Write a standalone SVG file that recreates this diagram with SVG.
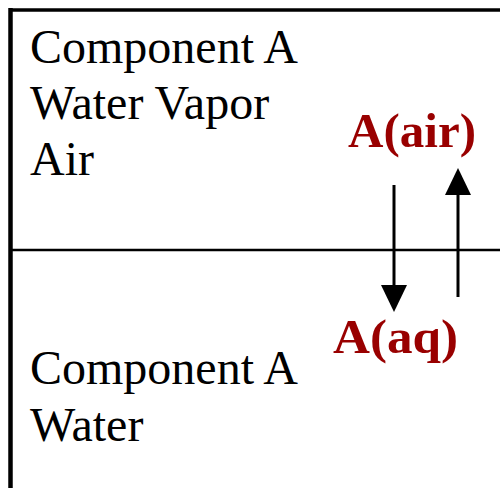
<svg xmlns="http://www.w3.org/2000/svg" width="500" height="488" viewBox="0 0 500 488">
<defs>
<style>
.lbl{font-family:"Liberation Serif","Times New Roman",serif;font-size:48px;fill:#000}
.red{font-family:"Liberation Serif","Times New Roman",serif;font-size:49px;font-weight:bold;fill:#990000}
.ln{stroke:#000;fill:none}
</style>
</defs>
<rect width="500" height="488" fill="#fff"/>
<g id="box">
<line class="ln" x1="10.5" y1="10" x2="500" y2="10" stroke-width="3.5"/>
<line class="ln" x1="10.5" y1="8" x2="10.5" y2="488" stroke-width="4.5"/>
<line class="ln" x1="10" y1="250" x2="500" y2="250" stroke-width="2.5"/>
</g>
<g id="air-phase">
<text class="lbl" x="30" y="63">Component A</text>
<text class="lbl" x="30" y="119">Water Vapor</text>
<text class="lbl" x="30" y="175">Air</text>
</g>
<g id="water-phase">
<text class="lbl" x="30" y="384">Component A</text>
<text class="lbl" x="30" y="441">Water</text>
</g>
<g id="A-air">
<text class="red" x="348" y="147" textLength="128" lengthAdjust="spacingAndGlyphs">A(air)</text>
</g>
<g id="A-aq">
<text class="red" x="333" y="353" font-size="51" textLength="125" lengthAdjust="spacingAndGlyphs">A(aq)</text>
</g>
<g id="connectors">
<line class="ln" x1="394" y1="185" x2="394" y2="287" stroke-width="3"/>
<path d="M381,285 L407,285 L394,312 z" fill="#000"/>
<line class="ln" x1="458" y1="297" x2="458" y2="193" stroke-width="3"/>
<path d="M445,195 L471,195 L458,168 z" fill="#000"/>
</g>
</svg>
